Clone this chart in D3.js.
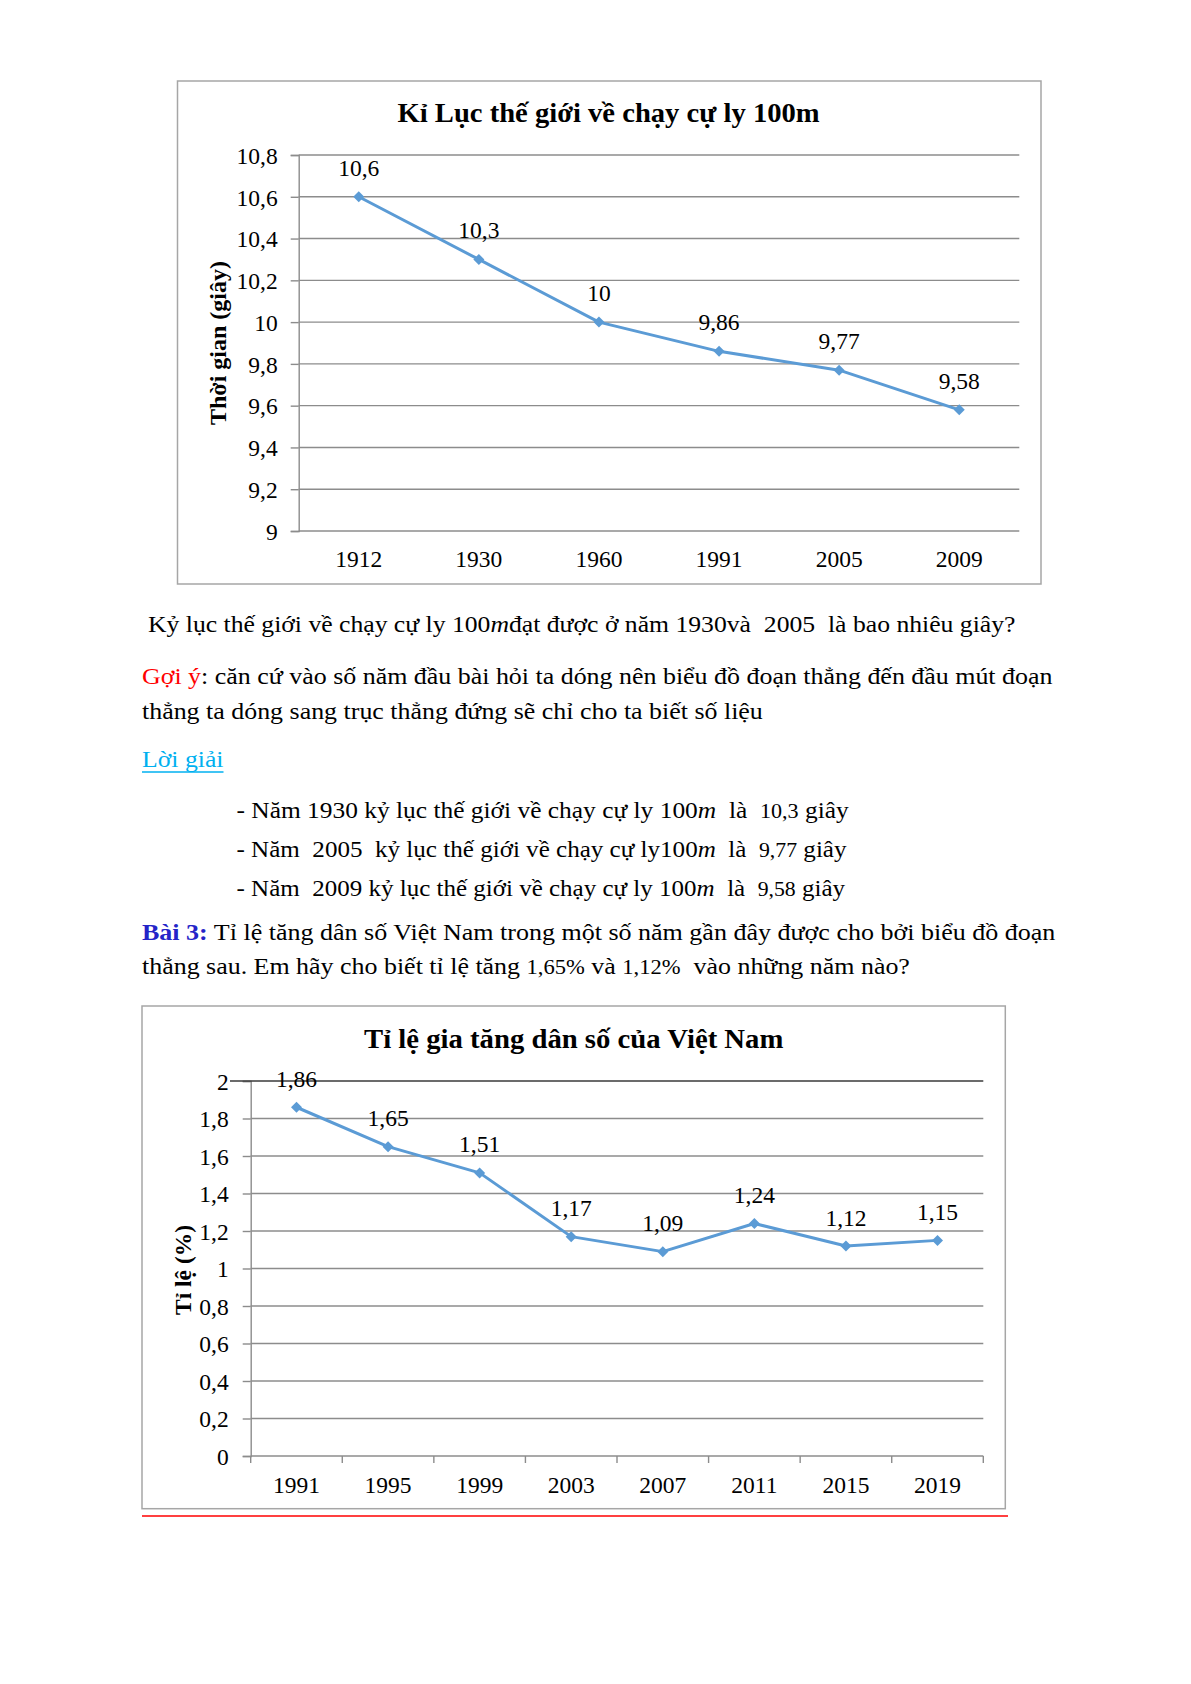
<!DOCTYPE html>
<html>
<head>
<meta charset="utf-8">
<script src="https://cdn.jsdelivr.net/npm/d3@7"></script>
<style>
  html, body { margin: 0; padding: 0; background: #fff; }
  svg { display: block; }
  text { white-space: pre; }
</style>
</head>
<body>
<script>
// ---------- DATA ----------
const recordYears = ["1912", "1930", "1960", "1991", "2005", "2009"];
const recordTimes = [10.6, 10.3, 10, 9.86, 9.77, 9.58];
const recordTicks = [9, 9.2, 9.4, 9.6, 9.8, 10, 10.2, 10.4, 10.6, 10.8];

const popYears = ["1991", "1995", "1999", "2003", "2007", "2011", "2015", "2019"];
const popRates = [1.86, 1.65, 1.51, 1.17, 1.09, 1.24, 1.12, 1.15];
const popTicks = [0, 0.2, 0.4, 0.6, 0.8, 1, 1.2, 1.4, 1.6, 1.8, 2];

const chart1Title = "Kỉ Lục thế giới về chạy cự ly 100m";
const chart1YTitle = "Thời gian (giây)";
const chart2Title = "Tỉ lệ gia tăng dân số của Việt Nam";
const chart2YTitle = "Tỉ lệ (%)";

// ---------- SETUP ----------
const W = 1191, H = 1684;
const SERIF = "'Liberation Serif', 'Times New Roman', serif";
const LINE = "#5B9BD5";
const GRID = "#8c8c8c";
const FRAME = "#a6a6a6";
const AX = 23.5;   // chart text size
const BODY = 23;   // paragraph text size
const fmt = v => String(+v.toFixed(2)).replace(".", ",");

const svg = d3.select("body").append("svg")
  .attr("width", W).attr("height", H)
  .attr("font-family", SERIF);
svg.append("rect").attr("width", W).attr("height", H).attr("fill", "#fff");

function textLine(x, y, targetW, segs, size) {
  const t = svg.append("text").attr("font-size", size).attr("fill", "#000");
  segs.forEach(s => {
    const ts = t.append("tspan").text(s.t);
    if (s.fill) ts.attr("fill", s.fill);
    if (s.italic) ts.attr("font-style", "italic");
    if (s.bold) ts.attr("font-weight", "bold");
    if (s.size) ts.attr("font-size", s.size);
  });
  const w = t.node().getBBox().width;
  const sx = targetW ? targetW / w : 1;
  t.attr("transform", `translate(${x},${y}) scale(${sx},1)`);
  return t;
}
function centeredText(cx, y, targetW, str, size, bold) {
  const t = svg.append("text").attr("font-size", size)
    .attr("font-weight", bold ? "bold" : null).text(str);
  const w = t.node().getBBox().width;
  t.attr("transform", `translate(${cx - targetW / 2},${y}) scale(${targetW / w},1)`);
}
function diamond(g, x, y, r) {
  g.append("path")
    .attr("d", `M${x},${y - r}L${x + r},${y}L${x},${y + r}L${x - r},${y}Z`)
    .attr("fill", LINE);
}

// ---------- CHART 1 ----------
{
  svg.append("rect").attr("x", 177.5).attr("y", 81).attr("width", 863.5).attr("height", 503)
    .attr("fill", "none").attr("stroke", FRAME).attr("stroke-width", 1.5);
  centeredText(609, 122, 423, chart1Title, 27, true);

  const x = d3.scaleBand().domain(recordYears).range([298.7, 1019.3]);
  const y = d3.scaleLinear().domain([9, 10.8]).range([531, 155]);
  const g = svg.append("g");

  g.selectAll("line.grid").data(recordTicks).join("line")
    .attr("x1", 298.7).attr("x2", 1019.3)
    .attr("y1", d => y(d)).attr("y2", d => y(d))
    .attr("stroke", GRID).attr("stroke-width", 1.4);

  const ya = g.append("g").attr("transform", "translate(298.7,0)")
    .call(d3.axisLeft(y).tickValues(recordTicks).tickFormat(fmt).tickSize(8).tickPadding(13));
  ya.select(".domain").attr("stroke", GRID).attr("stroke-width", 1.4);
  ya.selectAll(".tick line").attr("stroke", GRID).attr("stroke-width", 1.4);
  ya.selectAll(".tick text").attr("font-family", SERIF).attr("font-size", AX).attr("fill", "#000")
    .attr("dy", "0.35em");

  const xa = g.append("g").attr("transform", "translate(0,531)")
    .call(d3.axisBottom(x).tickSize(0).tickPadding(0));
  xa.select(".domain").remove();
  xa.selectAll(".tick text").attr("font-family", SERIF).attr("font-size", AX).attr("fill", "#000")
    .attr("y", 36).attr("dy", 0);

  const pts = recordYears.map((k, i) => [x(k) + x.bandwidth() / 2, y(recordTimes[i])]);
  g.append("path").attr("d", d3.line()(pts)).attr("fill", "none")
    .attr("stroke", LINE).attr("stroke-width", 3).attr("stroke-linejoin", "round");
  pts.forEach(p => diamond(g, p[0], p[1], 5.5));
  g.selectAll("text.lbl").data(recordTimes).join("text").attr("class", "lbl")
    .attr("x", (d, i) => pts[i][0]).attr("y", (d, i) => pts[i][1] - 21)
    .attr("text-anchor", "middle").attr("font-size", AX).text(fmt);

  svg.append("text").attr("transform", "translate(226,343) rotate(-90)")
    .attr("text-anchor", "middle").attr("font-size", 24).attr("font-weight", "bold")
    .text(chart1YTitle);
}

// ---------- TEXT ----------
textLine(148, 632.3, 868, [
  { t: "Kỷ lục thế giới về chạy cự ly 100" }, { t: "m", italic: true },
  { t: "đạt được ở năm 1930" }, { t: "và  2005  là bao nhiêu giây?" }
], BODY);
textLine(142, 683.5, 911.5, [
  { t: "Gợi ý", fill: "#ff0000" },
  { t: ": căn cứ vào số năm đầu bài hỏi ta dóng nên biểu đồ đoạn thẳng đến đầu mút đoạn" }
], BODY);
textLine(142, 718.5, 621.5, [
  { t: "thẳng ta dóng sang trục thẳng đứng sẽ chỉ cho ta biết số liệu" }
], BODY);
textLine(142, 767, 81.5, [{ t: "Lời giải", fill: "#00b0f0" }], BODY);
svg.append("line").attr("x1", 142).attr("x2", 223.5).attr("y1", 772).attr("y2", 772)
  .attr("stroke", "#00b0f0").attr("stroke-width", 1.5);

textLine(236.5, 818, 613, [
  { t: "- Năm 1930 kỷ lục thế giới về chạy cự ly 100" }, { t: "m", italic: true },
  { t: "  là  " }, { t: "10,3", size: 20 }, { t: " giây" }
], BODY);
textLine(236.5, 857, 611, [
  { t: "- Năm  2005  kỷ lục thế giới về chạy cự ly100" }, { t: "m", italic: true },
  { t: "  là  " }, { t: "9,77", size: 20 }, { t: " giây" }
], BODY);
textLine(236.5, 896, 609.5, [
  { t: "- Năm  2009" }, { t: " kỷ lục thế giới về chạy cự ly 100" }, { t: "m", italic: true },
  { t: "  là  " }, { t: "9,58", size: 20 }, { t: " giây" }
], BODY);
textLine(142, 940, 914.5, [
  { t: "Bài 3:", bold: true, fill: "#2424c8" },
  { t: " Tỉ lệ tăng dân số Việt Nam trong một số năm gần đây được cho bởi biểu đồ đoạn" }
], BODY);
textLine(142, 974, 768.5, [
  { t: "thẳng sau. Em hãy cho biết tỉ lệ tăng " }, { t: "1,65%", size: 20 },
  { t: " và " }, { t: "1,12%", size: 20 }, { t: "  vào những năm nào?" }
], BODY);

// ---------- CHART 2 ----------
{
  svg.append("rect").attr("x", 142).attr("y", 1006).attr("width", 863.3).attr("height", 502.7)
    .attr("fill", "none").attr("stroke", FRAME).attr("stroke-width", 1.5);
  centeredText(574, 1048, 420, chart2Title, 27, true);

  const x = d3.scaleBand().domain(popYears).range([250.7, 983.3]);
  const y = d3.scaleLinear().domain([0, 2]).range([1456, 1081]);
  const g = svg.append("g");

  g.selectAll("line.grid").data(popTicks.filter(d => d !== 2 && d !== 0)).join("line")
    .attr("x1", 250.7).attr("x2", 983.3)
    .attr("y1", d => y(d)).attr("y2", d => y(d))
    .attr("stroke", GRID).attr("stroke-width", 1.4);

  const ya = g.append("g").attr("transform", "translate(250.7,0)")
    .call(d3.axisLeft(y).tickValues(popTicks).tickFormat(fmt).tickSize(8).tickPadding(14));
  ya.select(".domain").attr("stroke", GRID).attr("stroke-width", 1.4);
  ya.selectAll(".tick line").attr("stroke", GRID).attr("stroke-width", 1.4);
  ya.selectAll(".tick text").attr("font-family", SERIF).attr("font-size", AX).attr("fill", "#000")
    .attr("dy", "0.35em");

  g.append("line").attr("x1", 230).attr("x2", 983.3).attr("y1", y(2)).attr("y2", y(2))
    .attr("stroke", "#3a3a3a").attr("stroke-width", 1.6);

  g.append("line").attr("x1", 250.7).attr("x2", 983.3).attr("y1", y(0)).attr("y2", y(0))
    .attr("stroke", GRID).attr("stroke-width", 1.4);
  const bounds = popYears.map(k => x(k)).concat([x.range()[1]]);
  g.selectAll("line.xt").data(bounds).join("line")
    .attr("x1", d => d).attr("x2", d => d).attr("y1", y(0)).attr("y2", y(0) + 7)
    .attr("stroke", GRID).attr("stroke-width", 1.4);
  const xa = g.append("g").attr("transform", `translate(0,${y(0)})`)
    .call(d3.axisBottom(x).tickSize(0).tickPadding(0));
  xa.select(".domain").remove();
  xa.selectAll(".tick text").attr("font-family", SERIF).attr("font-size", AX).attr("fill", "#000")
    .attr("y", 36.5).attr("dy", 0);

  const pts = popYears.map((k, i) => [x(k) + x.bandwidth() / 2, y(popRates[i])]);
  g.append("path").attr("d", d3.line()(pts)).attr("fill", "none")
    .attr("stroke", LINE).attr("stroke-width", 3).attr("stroke-linejoin", "round");
  pts.forEach(p => diamond(g, p[0], p[1], 5.5));
  g.selectAll("text.lbl").data(popRates).join("text").attr("class", "lbl")
    .attr("x", (d, i) => pts[i][0]).attr("y", (d, i) => pts[i][1] - 20.5)
    .attr("text-anchor", "middle").attr("font-size", AX).text(fmt);

  svg.append("text").attr("transform", "translate(191,1270) rotate(-90)")
    .attr("text-anchor", "middle").attr("font-size", 23.5).attr("font-weight", "bold")
    .text(chart2YTitle);
}

svg.append("line").attr("x1", 142).attr("x2", 1008).attr("y1", 1516).attr("y2", 1516)
  .attr("stroke", "#ff0000").attr("stroke-width", 1.6);
</script>
</body>
</html>
